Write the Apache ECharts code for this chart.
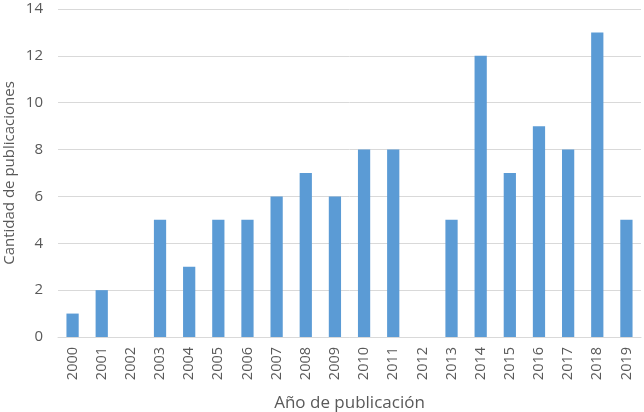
<!DOCTYPE html>
<html>
<head>
<meta charset="utf-8">
<script src="https://cdn.jsdelivr.net/npm/echarts@6/dist/echarts.min.js"></script>
<style>
  html, body { margin: 0; padding: 0; background: #fff; }
  #main { width: 644px; height: 412px; }
</style>
</head>
<body>
<div id="main"></div>
<script>
var years = ['2000', '2001', '2002', '2003', '2004', '2005', '2006', '2007', '2008', '2009',
             '2010', '2011', '2012', '2013', '2014', '2015', '2016', '2017', '2018', '2019'];
var publicaciones = [1, 2, 0, 5, 3, 5, 5, 6, 7, 6, 8, 8, 0, 5, 12, 7, 9, 8, 13, 5];

var chart = echarts.init(document.getElementById('main'));
var font = 'Open Sans';

chart.setOption({
    animation: false,
    grid: { left: 58, right: 3, top: 9, bottom: 75, containLabel: false, outerBoundsMode: 'none' },
    xAxis: {
        type: 'category',
        data: years,
        name: 'Año de publicación',
        nameLocation: 'middle',
        nameGap: 58,
        nameMoveOverlap: false,
        nameTextStyle: { color: '#595959', fontSize: 17, fontFamily: font },
        axisLine: { lineStyle: { color: '#d9d9d9', width: 1 } },
        axisTick: { show: false },
        axisLabel: { rotate: 90, color: '#595959', fontSize: 14.5, fontFamily: font, margin: 10 }
    },
    yAxis: {
        type: 'value',
        min: 0,
        max: 14,
        interval: 2,
        name: 'Cantidad de publicaciones',
        nameLocation: 'middle',
        nameGap: 41,
        nameMoveOverlap: false,
        nameTextStyle: { color: '#595959', fontSize: 15, fontFamily: font },
        axisLine: { show: false },
        axisTick: { show: false },
        axisLabel: { color: '#595959', fontSize: 15, fontFamily: font, margin: 15 },
        splitLine: { lineStyle: { color: '#d9d9d9', width: 1 } }
    },
    series: [{
        type: 'bar',
        data: publicaciones,
        barWidth: '42%',
        itemStyle: { color: '#5b9bd5' }
    }]
});
</script>
</body>
</html>
